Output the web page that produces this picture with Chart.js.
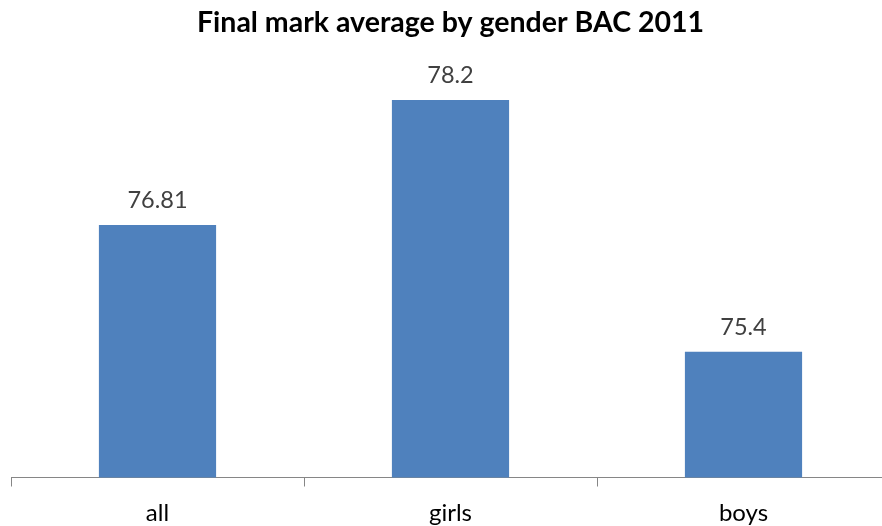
<!DOCTYPE html>
<html><head><meta charset="utf-8">
<script src="https://cdn.jsdelivr.net/npm/chart.js@4"></script>
<style>
html,body{margin:0;padding:0;background:#fff;overflow:hidden;}
#wrap{width:892px;height:526px;position:relative;}
</style></head>
<body><div id="wrap"><canvas id="c"></canvas></div>
<script>
const categories = ["all", "girls", "boys"];
const values = [76.81, 78.2, 75.4];
const valueLabels = ["76.81", "78.2", "75.4"];
const titleText = "Final mark average by gender BAC 2011";

const dataLabelPlugin = {
  id: 'dataLabels',
  afterDatasetsDraw(chart) {
    const ctx = chart.ctx;
    const meta = chart.getDatasetMeta(0);
    ctx.save();
    ctx.font = '23.5px Lato';
    ctx.fillStyle = '#404040';
    ctx.textAlign = 'center';
    ctx.textBaseline = 'alphabetic';
    meta.data.forEach((bar, i) => {
      ctx.fillText(valueLabels[i], bar.x, bar.y - 17);
    });
    ctx.restore();
  }
};

new Chart(document.getElementById('c'), {
  type: 'bar',
  data: {
    labels: categories,
    datasets: [{
      data: values,
      backgroundColor: '#4F81BD',
      borderWidth: 0,
      categoryPercentage: 1,
      barPercentage: 0.4
    }]
  },
  options: {
    responsive: true,
    maintainAspectRatio: false,
    animation: false,
    layout: { padding: { left: 11, right: 2, top: 0, bottom: -13.5 } },
    plugins: {
      legend: { display: false },
      tooltip: { enabled: false },
      title: {
        display: true,
        text: titleText,
        color: '#000',
        font: { family: 'Lato', size: 28.5, weight: 'bold', lineHeight: 1.2 },
        padding: { top: 6, bottom: 4 }
      }
    },
    scales: {
      y: { display: false, min: 74, max: 78.82 },
      x: {
        offset: true,
        border: { display: true, color: '#868686', width: 1 },
        grid: { offset: true, display: true, drawOnChartArea: false, tickLength: 9, color: '#868686' },
        ticks: { color: '#000', font: { family: 'Lato', size: 24, lineHeight: 1.083 }, padding: 13.5 }
      }
    }
  },
  plugins: [dataLabelPlugin]
});
</script></body></html>
